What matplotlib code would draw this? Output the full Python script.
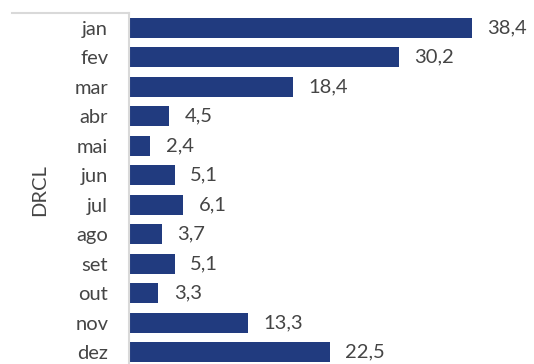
import matplotlib
matplotlib.use("Agg")
import matplotlib.pyplot as plt
from matplotlib.lines import Line2D

months = ["jan", "fev", "mar", "abr", "mai", "jun", "jul", "ago", "set", "out", "nov", "dez"]
values = [38.4, 30.2, 18.4, 4.5, 2.4, 5.1, 6.1, 3.7, 5.1, 3.3, 13.3, 22.5]
group_label = "DRCL"

plt.rcParams["font.family"] = ["Lato", "DejaVu Sans"]

W, H = 534, 364
fig = plt.figure(figsize=(W / 100, H / 100), dpi=100)

left_px, top_px, band_px = 129, 13, 29.5
bottom_px = top_px + band_px * len(months)
ax = fig.add_axes([left_px / W, 1 - bottom_px / H, (W - left_px) / W, band_px * len(months) / H])

bar_color = "#213B7F"
text_color = "#454545"
axis_gray = "#D9D9D9"
fs = 14.5

y = list(range(len(months)))
bars = ax.barh(y, values, height=0.68, color=bar_color)
ax.set_ylim(len(months) - 0.5, -0.5)
ax.set_xlim(0, (W - left_px) / 8.93)

ax.bar_label(bars, labels=[f"{v:.1f}".replace(".", ",") for v in values],
             padding=11, fontsize=fs, color=text_color)

ax.set_yticks(y)
ax.set_yticklabels(months, fontsize=fs, color=text_color)
ax.tick_params(axis="y", length=0, pad=15)
ax.set_xticks([])
for s in ["top", "right", "bottom"]:
    ax.spines[s].set_visible(False)
ax.spines["left"].set_color(axis_gray)
ax.spines["left"].set_linewidth(1.5)

# group separator line above the category labels
fig.add_artist(Line2D([12 / W, left_px / W], [1 - top_px / H, 1 - top_px / H],
                      transform=fig.transFigure, color=axis_gray, linewidth=1.5))
fig.text(40 / W, 1 - 190 / H, group_label, rotation=90, ha="center", va="center",
         fontsize=fs, color=text_color)

fig.savefig("out.png", dpi=100)
